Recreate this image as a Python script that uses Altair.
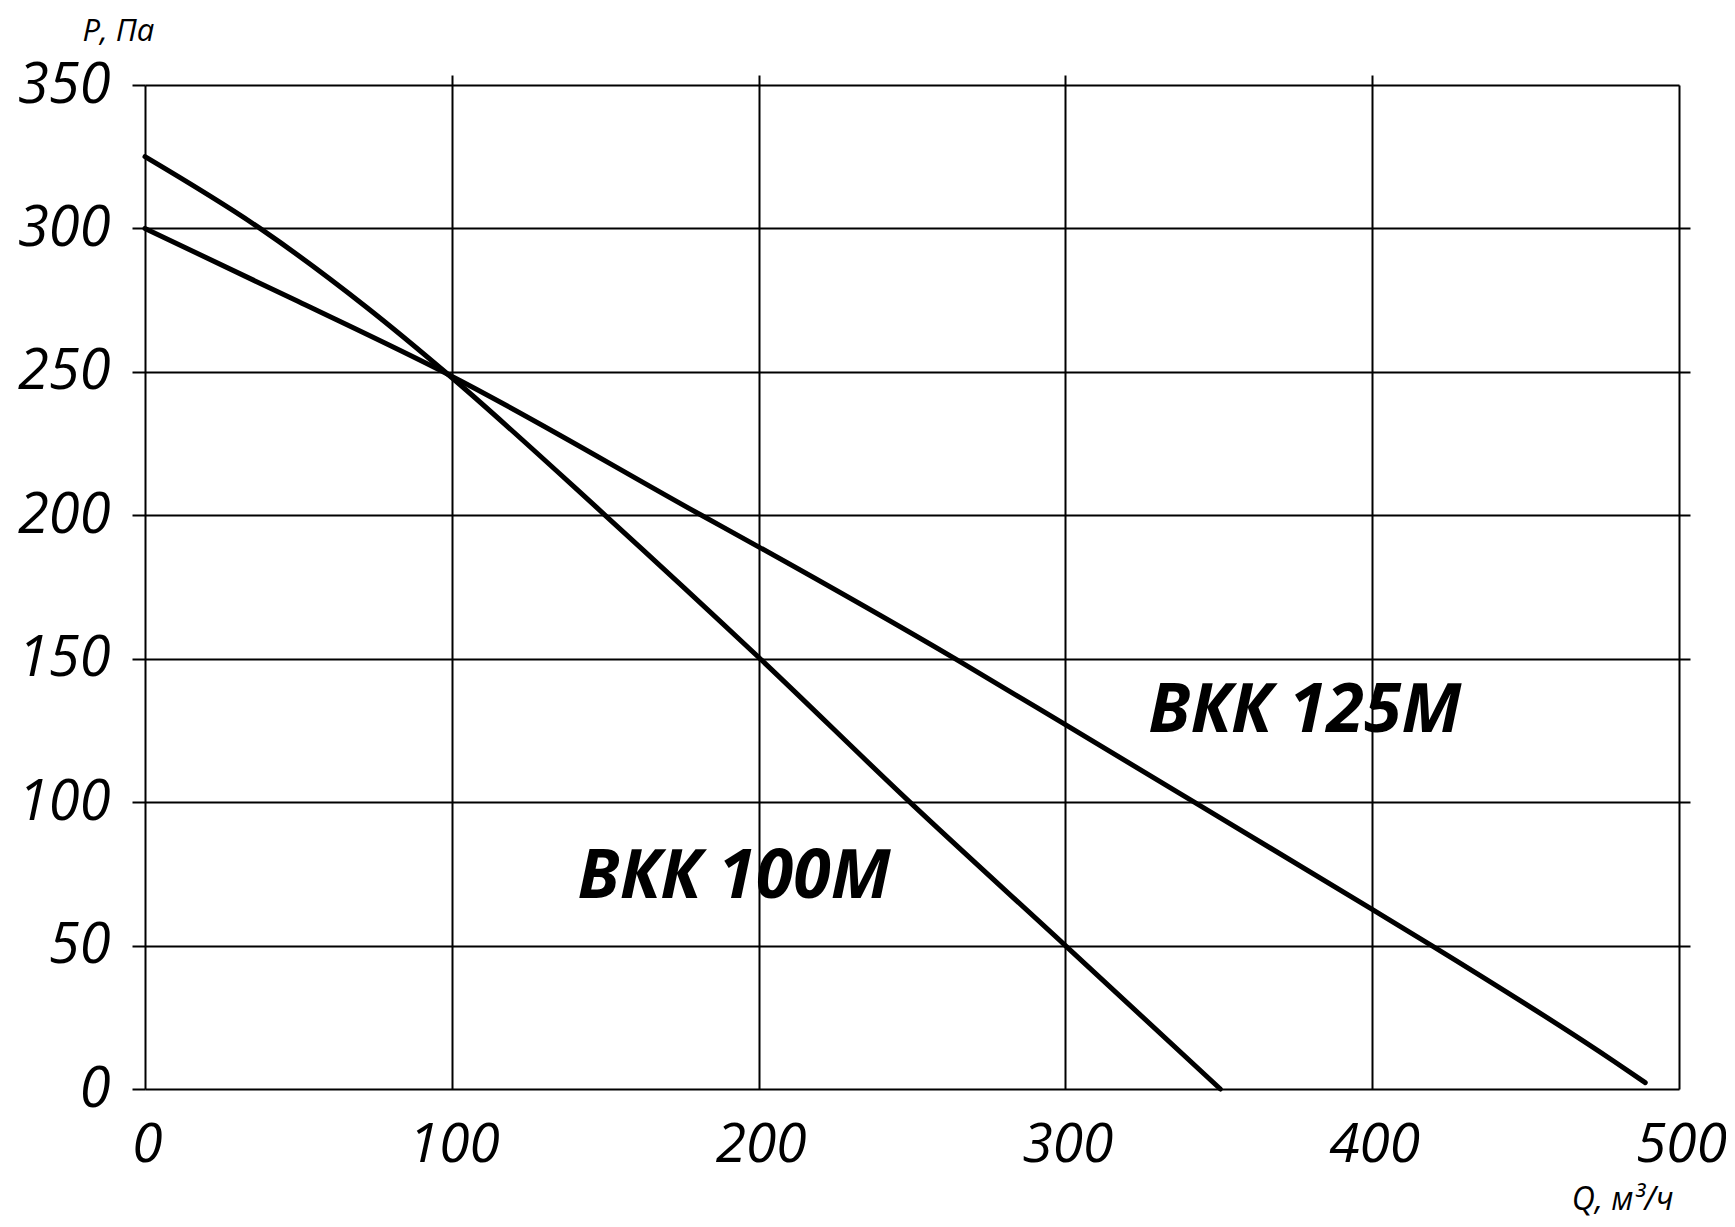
import altair as alt
import pandas as pd

# ВКК 100М curve
q_100 = [0, 37.5, 72, 99, 150, 200, 249.3, 300, 350.5]
p_100 = [325, 300, 272.7, 248.9, 200, 150.5, 100, 50, 0]

# ВКК 125М curve
q_125 = [0, 50, 99, 181.4, 200, 264, 300, 342, 400, 419.4, 479, 489]
p_125 = [300, 274.5, 249, 200, 189, 150, 127, 100, 62.6, 50, 9.5, 2.2]

series_names = ["ВКК 100М", "ВКК 125М"]
label_q = [141, 327]
label_p = [66.6, 124.4]

x_ticks = [0, 100, 200, 300, 400, 500]
y_ticks = [0, 50, 100, 150, 200, 250, 300, 350]

df = pd.concat([
    pd.DataFrame({"q": q_100, "p": p_100, "series": series_names[0]}),
    pd.DataFrame({"q": q_125, "p": p_125, "series": series_names[1]}),
], ignore_index=True)
labels_df = pd.DataFrame({"q": label_q, "p": label_p, "name": series_names})

FONT = "Open Sans"
xs = alt.Scale(domain=[0, 500], nice=False, zero=False)
ys = alt.Scale(domain=[0, 350], nice=False, zero=False)

lines = alt.Chart(df).mark_line(
    color="black", strokeWidth=5, strokeCap="round", interpolate="monotone"
).encode(
    x=alt.X("q:Q", scale=xs, axis=alt.Axis(
        orient="bottom", values=x_ticks, grid=True, gridColor="black", gridWidth=2,
        gridOpacity=1, ticks=False, domain=False, labelFont=FONT, labelFontStyle="italic",
        labelFontSize=55, labelPadding=29, labelColor="black", labelFlush=False,
        labelOverlap=False, labelOffset=2,
        title="Q, м³/ч", titleFont=FONT, titleFontStyle="italic", titleFontWeight="normal",
        titleFontSize=32, titleColor="black", titleX=1528, titleY=120, titleAlign="right",
        titleBaseline="alphabetic")),
    y=alt.Y("p:Q", scale=ys, axis=alt.Axis(
        orient="left", values=y_ticks, grid=True, gridColor="black", gridWidth=2,
        gridOpacity=1, ticks=True, tickSize=13, tickWidth=2, tickColor="black",
        domain=False, labelFont=FONT, labelFontStyle="italic", labelFontSize=56,
        labelPadding=22, labelColor="black", labelFlush=False, labelOverlap=False,
        title="P, Па", titleFont=FONT, titleFontStyle="italic", titleFontWeight="normal",
        titleFontSize=31, titleColor="black", titleAngle=0, titleX=-63, titleY=-45,
        titleAlign="left", titleBaseline="alphabetic")),
    detail="series:N",
)

ticks_layer = alt.Chart(df).mark_line(opacity=0).encode(
    x=alt.X("q:Q", scale=xs, axis=alt.Axis(
        orient="top", values=[100, 200, 300, 400], grid=False, labels=False,
        ticks=True, tickSize=10, tickWidth=2, tickColor="black", domain=False, title=None)),
    y=alt.Y("p:Q", scale=ys, axis=alt.Axis(
        orient="right", values=[50, 100, 150, 200, 250, 300], grid=False, labels=False,
        ticks=True, tickSize=11, tickWidth=2, tickColor="black", domain=False, title=None)),
    detail="series:N",
)

texts = alt.Chart(labels_df).mark_text(
    font=FONT, fontSize=68, fontWeight="bold", fontStyle="italic",
    align="left", baseline="alphabetic", color="black"
).encode(
    x=alt.X("q:Q", scale=xs, axis=None),
    y=alt.Y("p:Q", scale=ys, axis=None),
    text="name:N",
)

chart = alt.layer(lines, ticks_layer, texts).resolve_scale(
    x="independent", y="independent"
).properties(
    width=1534, height=1004,
    autosize=alt.AutoSizeParams(type="none"),
    padding={"left": 137, "top": 77, "right": 47, "bottom": 128},
).configure_view(
    stroke="black", strokeWidth=4
).configure(background="white")

chart.save("out.html", embed_options={"renderer": "svg", "actions": False})
